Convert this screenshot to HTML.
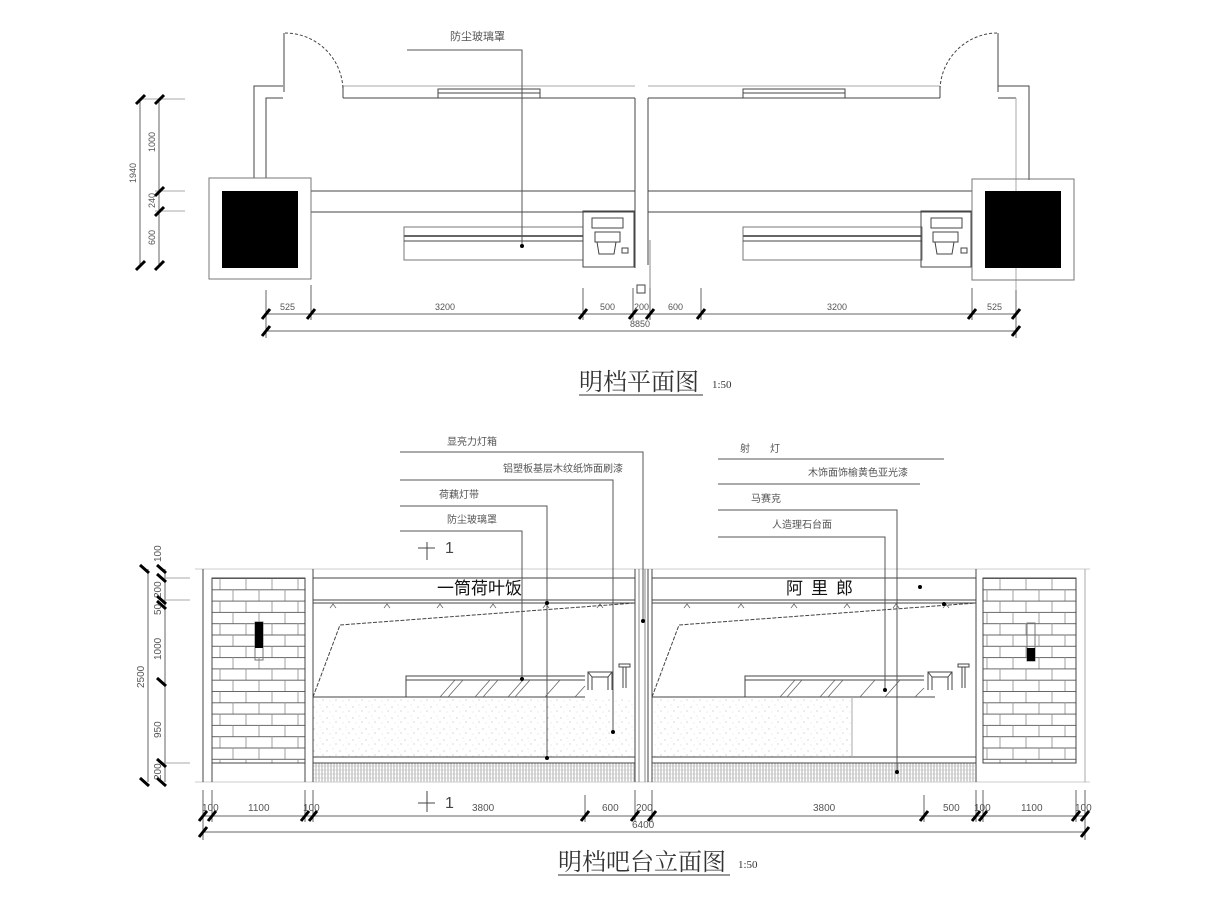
<!DOCTYPE html>
<html><head><meta charset="utf-8"><style>
html,body{margin:0;padding:0;background:#fff;}
svg{display:block;}
.t{font-family:"Liberation Serif","Noto Serif CJK SC",serif;fill:#333;}
.s{font-family:"Liberation Sans","Noto Sans CJK SC",sans-serif;fill:#555;font-size:10px;}
</style></head><body>
<svg width="1208" height="906" viewBox="0 0 1208 906" xmlns="http://www.w3.org/2000/svg">
<defs>
<pattern id="brick" x="212" y="578" width="52" height="22.6" patternUnits="userSpaceOnUse">
<rect width="52" height="22.6" fill="#fff"/>
<line x1="0" y1="0.5" x2="52" y2="0.5" stroke="#666" stroke-width="1"/>
<line x1="0" y1="11.8" x2="52" y2="11.8" stroke="#666" stroke-width="1"/>
<line x1="8" y1="0" x2="8" y2="11.3" stroke="#888" stroke-width="0.8"/>
<line x1="34" y1="0" x2="34" y2="11.3" stroke="#888" stroke-width="0.8"/>
<line x1="21" y1="11.3" x2="21" y2="22.6" stroke="#888" stroke-width="0.8"/>
<line x1="47" y1="11.3" x2="47" y2="22.6" stroke="#888" stroke-width="0.8"/>
</pattern>
<pattern id="stip" width="13" height="11" patternUnits="userSpaceOnUse">
<rect width="13" height="11" fill="#fff"/>
<circle cx="2" cy="3" r="0.5" fill="#999"/><circle cx="8" cy="1" r="0.4" fill="#aaa"/>
<circle cx="11" cy="7" r="0.5" fill="#999"/><circle cx="5" cy="8" r="0.4" fill="#aaa"/>
<circle cx="9" cy="4" r="0.3" fill="#bbb"/>
</pattern>
<pattern id="tile" width="3" height="4" patternUnits="userSpaceOnUse">
<rect width="3" height="4" fill="#fff"/>
<line x1="1" y1="0" x2="1" y2="4" stroke="#999" stroke-width="0.8"/>
<line x1="0" y1="2" x2="3" y2="2" stroke="#bbb" stroke-width="0.5"/>
</pattern>
</defs>

<g stroke="#444" stroke-width="1" fill="none">
<!-- ============ PLAN ============ -->
<!-- outer wall -->
<polyline points="254,178 254,86 283,86"/>
<polyline points="343,86 635,86" stroke="#aaa"/>
<polyline points="648,86 940,86" stroke="#aaa"/>
<polyline points="998,86 1029,86 1029,180"/>
<polyline points="266,178 266,98 283,98"/>
<line x1="343" y1="98" x2="635" y2="98"/>
<line x1="648" y1="98" x2="940" y2="98"/>
<line x1="998" y1="98" x2="1016" y2="98"/>
<line x1="1016" y1="98" x2="1016" y2="300" stroke="#aaa"/>
<!-- doors -->
<line x1="284" y1="33" x2="284" y2="92"/>
<path d="M285,33 A58,58 0 0 1 343,91" stroke-dasharray="3,2"/>
<line x1="343" y1="86" x2="343" y2="98"/>
<line x1="998" y1="33" x2="998" y2="92"/>
<path d="M997,33 A58,58 0 0 0 940,91" stroke-dasharray="3,2"/>
<line x1="940" y1="86" x2="940" y2="98"/>
<!-- windows -->
<rect x="438" y="89" width="102" height="9"/><line x1="438" y1="93" x2="540" y2="93"/>
<rect x="743" y="89" width="102" height="9"/><line x1="743" y1="93" x2="845" y2="93"/>
<!-- divider -->
<line x1="635" y1="98" x2="635" y2="268"/>
<line x1="648" y1="98" x2="648" y2="265"/>
<line x1="650" y1="240" x2="650" y2="300" stroke="#888"/>
<rect x="637" y="285" width="8" height="8"/>
<!-- counter bands -->
<line x1="311" y1="191" x2="635" y2="191"/>
<line x1="311" y1="212" x2="635" y2="212"/>
<line x1="648" y1="191" x2="972" y2="191"/>
<line x1="648" y1="212" x2="972" y2="212"/>
<!-- columns -->
<rect x="209" y="178" width="102" height="101" stroke="#777"/>
<rect x="222" y="191" width="76" height="77" fill="#000" stroke="none"/>
<rect x="972" y="179" width="102" height="101" stroke="#777"/>
<rect x="985" y="191" width="76" height="77" fill="#000" stroke="none"/>
<!-- showcases -->
<rect x="404" y="227" width="179" height="33" stroke="#777"/>
<line x1="404" y1="236" x2="583" y2="236" stroke-width="2" stroke="#666"/>
<line x1="404" y1="241" x2="583" y2="241"/>
<rect x="743" y="227" width="179" height="33" stroke="#777"/>
<line x1="743" y1="236" x2="922" y2="236" stroke-width="2" stroke="#666"/>
<line x1="743" y1="241" x2="922" y2="241"/>
<!-- registers -->
<rect x="583" y="211" width="51" height="56"/><rect x="592" y="218" width="31" height="10"/>
<rect x="595" y="232" width="25" height="10"/><path d="M597,242 L599,254 L614,254 L616,242"/><rect x="622" y="248" width="6" height="5"/>
<rect x="921" y="211" width="50" height="56"/><rect x="931" y="218" width="31" height="10"/>
<rect x="933" y="232" width="25" height="10"/><path d="M935,242 L937,254 L952,254 L954,242"/><rect x="961" y="248" width="6" height="5"/>
<!-- leader -->
<polyline points="407,50 522,50 522,246" stroke="#555"/>
<!-- plan dims -->
<g stroke="#666">
<line x1="140" y1="99" x2="185" y2="99" stroke="#aaa"/>
<line x1="140" y1="265" x2="140" y2="99"/><line x1="159" y1="265" x2="159" y2="99"/>
<line x1="155" y1="191" x2="185" y2="191" stroke="#aaa"/><line x1="155" y1="211" x2="185" y2="211" stroke="#aaa"/>
<line x1="266" y1="314" x2="1016" y2="314"/><line x1="266" y1="331" x2="1016" y2="331"/>
<line x1="266" y1="290" x2="266" y2="338"/><line x1="311" y1="285" x2="311" y2="320"/>
<line x1="583" y1="288" x2="583" y2="320"/><line x1="633" y1="288" x2="633" y2="320"/>
<line x1="650" y1="288" x2="650" y2="320"/><line x1="701" y1="288" x2="701" y2="320"/>
<line x1="972" y1="288" x2="972" y2="320"/><line x1="1016" y1="290" x2="1016" y2="338"/>
</g>
</g>
<g stroke="#000" stroke-width="3">
<line x1="136" y1="104" x2="145" y2="95"/><line x1="155" y1="104" x2="164" y2="95"/>
<line x1="155" y1="196" x2="164" y2="187"/><line x1="155" y1="216" x2="164" y2="207"/>
<line x1="136" y1="270" x2="145" y2="261"/><line x1="155" y1="270" x2="164" y2="261"/>
<line x1="262" y1="319" x2="270" y2="309"/><line x1="307" y1="319" x2="315" y2="309"/>
<line x1="579" y1="319" x2="587" y2="309"/><line x1="629" y1="319" x2="637" y2="309"/>
<line x1="646" y1="319" x2="654" y2="309"/><line x1="697" y1="319" x2="705" y2="309"/>
<line x1="968" y1="319" x2="976" y2="309"/><line x1="1012" y1="319" x2="1020" y2="309"/>
<line x1="262" y1="336" x2="270" y2="326"/><line x1="1012" y1="336" x2="1020" y2="326"/>
</g>
<circle cx="522" cy="246" r="2" fill="#000"/>
<g class="s">
<text x="450" y="40" font-size="11">防尘玻璃罩</text>
<text x="280" y="310" font-size="9">525</text><text x="435" y="310" font-size="9">3200</text>
<text x="600" y="310" font-size="9">500</text><text x="634" y="310" font-size="9">200</text>
<text x="668" y="310" font-size="9">600</text><text x="827" y="310" font-size="9">3200</text>
<text x="987" y="310" font-size="9">525</text><text x="630" y="327" font-size="9">8850</text>
<text transform="translate(136,183) rotate(-90)" font-size="9">1940</text>
<text transform="translate(155,152) rotate(-90)" font-size="9">1000</text>
<text transform="translate(155,208) rotate(-90)" font-size="9">240</text>
<text transform="translate(155,245) rotate(-90)" font-size="9">600</text>
</g>
<text class="t" x="579" y="390" font-size="24">明档平面图</text>
<line x1="579" y1="395" x2="703" y2="395" stroke="#333"/>
<text class="t" x="712" y="388" font-size="11">1:50</text>

<!-- ============ ELEVATION ============ -->
<rect x="212" y="578" width="93" height="185" fill="url(#brick)"/>
<rect x="983" y="578" width="93" height="185" fill="url(#brick)"/>
<rect x="313" y="697" width="322" height="60" fill="url(#stip)"/>
<rect x="652" y="697" width="200" height="60" fill="url(#stip)"/>
<rect x="313" y="763" width="322" height="19" fill="url(#tile)"/>
<rect x="652" y="763" width="323" height="19" fill="url(#tile)"/>
<g stroke="#444" stroke-width="1" fill="none">
<line x1="195" y1="569" x2="1090" y2="569" stroke="#ccc"/>
<line x1="195" y1="782" x2="1090" y2="782" stroke="#ccc"/>
<line x1="203" y1="569" x2="203" y2="782"/><line x1="1085" y1="569" x2="1085" y2="782" stroke="#aaa"/>
<rect x="212" y="578" width="93" height="185"/><rect x="983" y="578" width="93" height="185"/>
<line x1="212" y1="763" x2="212" y2="782"/><line x1="305" y1="763" x2="305" y2="782"/>
<line x1="976" y1="569" x2="976" y2="782"/>
<!-- panels -->
<line x1="313" y1="569" x2="313" y2="782"/><line x1="652" y1="569" x2="652" y2="782"/>
<line x1="635" y1="569" x2="635" y2="782"/><line x1="639" y1="569" x2="639" y2="782" stroke="#888"/>
<line x1="645" y1="569" x2="645" y2="782" stroke="#888"/><line x1="648" y1="569" x2="648" y2="782"/>
<line x1="313" y1="578" x2="635" y2="578"/><line x1="652" y1="578" x2="976" y2="578"/>
<line x1="313" y1="600" x2="635" y2="600"/><line x1="313" y1="603" x2="635" y2="603"/>
<line x1="652" y1="600" x2="976" y2="600"/><line x1="652" y1="603" x2="976" y2="603"/>
<polyline points="313,697 340,625 635,603" stroke-dasharray="4,1.5"/>
<polyline points="652,697 679,625 976,603" stroke-dasharray="4,1.5"/>
<line x1="313" y1="697" x2="585" y2="697"/><line x1="652" y1="697" x2="935" y2="697"/>
<line x1="313" y1="757" x2="635" y2="757"/><line x1="313" y1="763" x2="635" y2="763"/>
<line x1="652" y1="757" x2="976" y2="757"/><line x1="652" y1="763" x2="976" y2="763"/>
<line x1="852" y1="697" x2="852" y2="757" stroke="#aaa"/>
<!-- glass counters -->
<polyline points="406,697 406,676 585,676"/><line x1="406" y1="680" x2="585" y2="680"/>
<polyline points="745,697 745,676 924,676"/><line x1="745" y1="680" x2="924" y2="680"/>
<g stroke="#666" stroke-width="0.8">
<path d="M440,697 L455,680 M448,697 L463,680 M475,697 L490,680 M483,697 L498,680 M508,697 L523,680 M515,697 L530,680 M545,697 L560,680 M575,697 L585,686"/>
<path d="M780,697 L795,680 M787,697 L802,680 M820,697 L835,680 M828,697 L843,680 M860,697 L875,680 M885,697 L900,680 M915,697 L924,688"/>
</g>
<!-- stools -->
<path d="M588,690 L588,672 L612,672 L612,690 M592,690 L592,677 L608,677 L608,690 M588,672 L592,677 M612,672 L608,677"/>
<rect x="619" y="664" width="11" height="3"/><line x1="623" y1="667" x2="623" y2="688"/><line x1="626" y1="667" x2="626" y2="688"/>
<path d="M928,690 L928,672 L952,672 L952,690 M932,690 L932,677 L948,677 L948,690 M928,672 L932,677 M952,672 L948,677"/>
<rect x="958" y="664" width="11" height="3"/><line x1="962" y1="667" x2="962" y2="688"/><line x1="965" y1="667" x2="965" y2="688"/>
<!-- lights -->
<g stroke="#666" stroke-width="0.8">
<path d="M330,608 L333,604 L336,608 M384,608 L387,604 L390,608 M437,608 L440,604 L443,608 M490,608 L493,604 L496,608 M543,608 L546,604 L549,608 M597,608 L600,604 L603,608"/>
<path d="M684,608 L687,604 L690,608 M738,608 L741,604 L744,608 M791,608 L794,604 L797,608 M844,608 L847,604 L850,608 M893,608 L896,604 L899,608 M943,608 L946,604 L949,608"/>
</g>
<!-- wall lamps -->
<rect x="255" y="622" width="8" height="38" stroke="#777"/>
<rect x="1027" y="623" width="8" height="38" stroke="#777"/>
<!-- section marks -->
<line x1="418" y1="548" x2="435" y2="548"/><line x1="427" y1="542" x2="427" y2="560"/>
<line x1="418" y1="803" x2="435" y2="803"/><line x1="427" y1="791" x2="427" y2="812"/>
<!-- leaders left -->
<polyline points="400,452 643,452 643,621" stroke="#555"/>
<polyline points="400,480 613,480 613,732" stroke="#555"/>
<polyline points="400,506 547,506 547,758" stroke="#555"/>
<polyline points="400,531 522,531 522,679" stroke="#555"/>
<!-- leaders right -->
<line x1="718" y1="459" x2="944" y2="459" stroke="#555"/>
<line x1="718" y1="484" x2="920" y2="484" stroke="#555"/>
<polyline points="718,510 897,510 897,772" stroke="#555"/>
<polyline points="718,537 885,537 885,690" stroke="#555"/>
<!-- elevation dims -->
<g stroke="#666">
<line x1="148" y1="569" x2="148" y2="782"/><line x1="165" y1="569" x2="165" y2="782"/>
<line x1="160" y1="578" x2="190" y2="578" stroke="#aaa"/><line x1="160" y1="600" x2="190" y2="600" stroke="#aaa"/>
<line x1="160" y1="763" x2="190" y2="763" stroke="#aaa"/>
<line x1="203" y1="816" x2="1085" y2="816"/><line x1="203" y1="832" x2="1085" y2="832"/>
<line x1="203" y1="790" x2="203" y2="840"/><line x1="212" y1="790" x2="212" y2="822"/>
<line x1="305" y1="790" x2="305" y2="822"/><line x1="313" y1="790" x2="313" y2="822"/>
<line x1="585" y1="795" x2="585" y2="822"/><line x1="635" y1="790" x2="635" y2="822"/>
<line x1="652" y1="790" x2="652" y2="822"/><line x1="924" y1="795" x2="924" y2="822"/>
<line x1="976" y1="790" x2="976" y2="822"/><line x1="983" y1="790" x2="983" y2="822"/>
<line x1="1076" y1="790" x2="1076" y2="822"/><line x1="1085" y1="790" x2="1085" y2="840"/>
</g>
</g>
<g fill="#000">
<circle cx="643" cy="621" r="2"/><circle cx="613" cy="732" r="2"/><circle cx="547" cy="603" r="2"/>
<circle cx="547" cy="758" r="2"/><circle cx="522" cy="679" r="2"/><circle cx="920" cy="587" r="2"/>
<circle cx="944" cy="604" r="2"/><circle cx="897" cy="772" r="2"/><circle cx="885" cy="690" r="2"/>
<rect x="255" y="622" width="8" height="26"/><rect x="1027" y="648" width="8" height="13"/>
</g>
<g stroke="#000" stroke-width="3">
<line x1="140" y1="565" x2="149" y2="573"/><line x1="157" y1="565" x2="166" y2="573"/>
<line x1="157" y1="574" x2="166" y2="582"/><line x1="157" y1="596" x2="166" y2="604"/>
<line x1="157" y1="601" x2="166" y2="609"/><line x1="157" y1="678" x2="166" y2="686"/>
<line x1="157" y1="759" x2="166" y2="767"/><line x1="157" y1="778" x2="166" y2="786"/>
<line x1="140" y1="778" x2="149" y2="786"/>
<line x1="199" y1="821" x2="207" y2="811"/><line x1="208" y1="821" x2="216" y2="811"/>
<line x1="301" y1="821" x2="309" y2="811"/><line x1="309" y1="821" x2="317" y2="811"/>
<line x1="581" y1="821" x2="589" y2="811"/><line x1="631" y1="821" x2="639" y2="811"/>
<line x1="648" y1="821" x2="656" y2="811"/><line x1="920" y1="821" x2="928" y2="811"/>
<line x1="972" y1="821" x2="980" y2="811"/><line x1="979" y1="821" x2="987" y2="811"/>
<line x1="1072" y1="821" x2="1080" y2="811"/><line x1="1081" y1="821" x2="1089" y2="811"/>
<line x1="199" y1="837" x2="207" y2="827"/><line x1="1081" y1="837" x2="1089" y2="827"/>
</g>
<text x="437" y="594" font-family="'Liberation Sans','Noto Sans CJK SC',sans-serif" font-size="17" fill="#111">一筒荷叶饭</text>
<text x="786" y="594" font-family="'Liberation Sans','Noto Sans CJK SC',sans-serif" font-size="17" fill="#111" letter-spacing="8">阿里郎</text>
<text x="445" y="553" font-size="16" fill="#444" font-family="'Liberation Sans',sans-serif">1</text>
<text x="445" y="808" font-size="16" fill="#444" font-family="'Liberation Sans',sans-serif">1</text>
<g class="s" font-size="10">
<text x="447" y="445">显亮力灯箱</text>
<text x="503" y="472">铝塑板基层木纹纸饰面刷漆</text>
<text x="439" y="498">荷藕灯带</text>
<text x="447" y="523">防尘玻璃罩</text>
<text x="740" y="452">射　　灯</text>
<text x="808" y="476">木饰面饰榆黄色亚光漆</text>
<text x="751" y="502">马赛克</text>
<text x="772" y="528">人造理石台面</text>
</g>
<g class="s" font-size="9">
<text x="202" y="811">100</text><text x="248" y="811">1100</text><text x="303" y="811">100</text>
<text x="472" y="811">3800</text><text x="602" y="811">600</text><text x="636" y="811">200</text>
<text x="813" y="811">3800</text><text x="943" y="811">500</text><text x="974" y="811">100</text>
<text x="1021" y="811">1100</text><text x="1075" y="811">100</text><text x="632" y="828">6400</text>
<text transform="translate(161,562) rotate(-90)">100</text>
<text transform="translate(161,598) rotate(-90)">200</text>
<text transform="translate(161,615) rotate(-90)">50</text>
<text transform="translate(161,660) rotate(-90)">1000</text>
<text transform="translate(161,738) rotate(-90)">950</text>
<text transform="translate(161,780) rotate(-90)">200</text>
<text transform="translate(144,688) rotate(-90)">2500</text>
</g>
<text class="t" x="558" y="870" font-size="24">明档吧台立面图</text>
<line x1="558" y1="875" x2="730" y2="875" stroke="#333"/>
<text class="t" x="738" y="868" font-size="11">1:50</text>
</svg>
</body></html>
